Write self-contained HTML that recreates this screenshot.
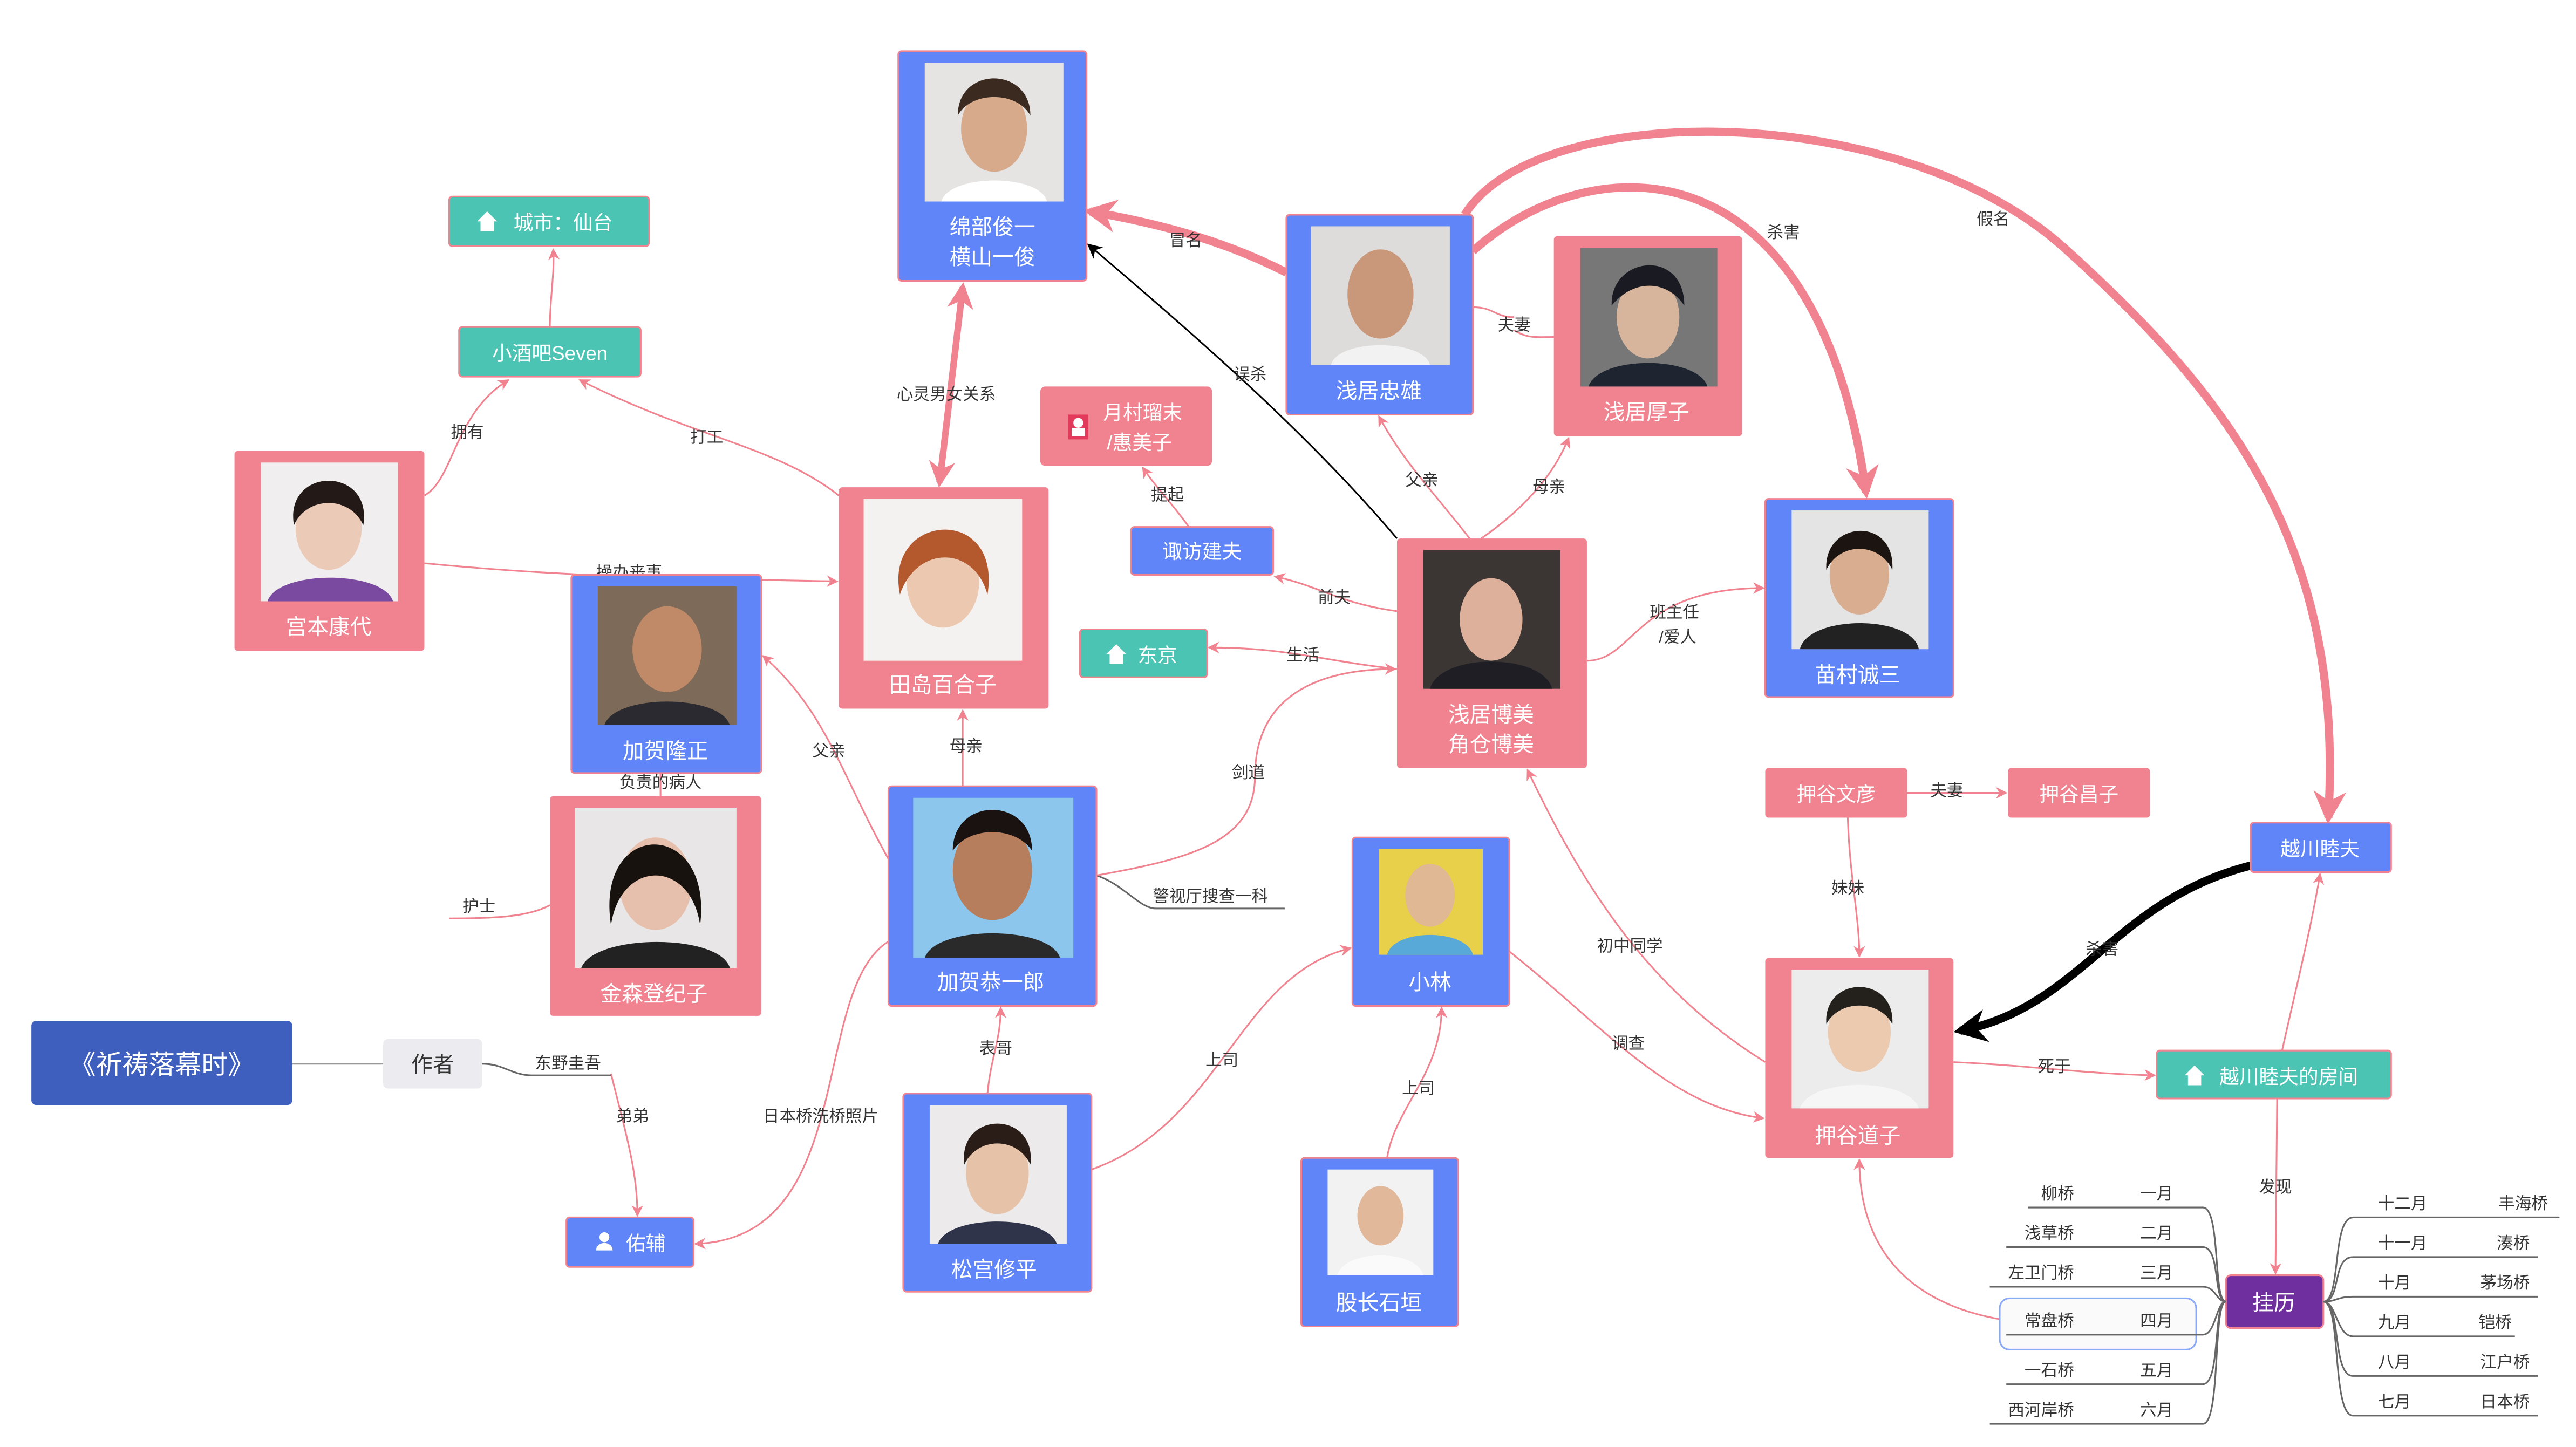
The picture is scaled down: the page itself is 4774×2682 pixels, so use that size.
<!DOCTYPE html>
<html><head><meta charset="utf-8"><style>
html,body{margin:0;padding:0;background:#fff}
svg{display:block}
text{font-family:"Liberation Sans","Noto Sans CJK SC",sans-serif}
.l{font-size:10px;fill:#333;text-anchor:middle}
.n{font-size:13px;fill:#fff;text-anchor:middle}
.e{fill:none;stroke:#f0838f;stroke-width:1}
.g{fill:none;stroke:#666;stroke-width:1}
</style></head><body>
<svg width="4774" height="2682" viewBox="0 0 1560 876" preserveAspectRatio="none" xmlns="http://www.w3.org/2000/svg">
<defs>
<marker id="a" viewBox="0 0 10 10" refX="9" refY="5" markerWidth="7" markerHeight="7" orient="auto-start-reverse" markerUnits="userSpaceOnUse"><path d="M0,0L10,5L0,10L3,5z" fill="#f0838f"/></marker>
<marker id="A" viewBox="0 0 10 10" refX="8" refY="5" markerWidth="4" markerHeight="4" orient="auto-start-reverse"><path d="M0,0L10,5L0,10L3,5z" fill="#f0838f"/></marker>
<marker id="k" viewBox="0 0 10 10" refX="9" refY="5" markerWidth="9" markerHeight="9" orient="auto" markerUnits="userSpaceOnUse"><path d="M0,0L10,5L0,10L3,5z" fill="#000"/></marker>
<marker id="K" viewBox="0 0 10 10" refX="8" refY="5" markerWidth="4" markerHeight="4" orient="auto"><path d="M0,0L10,5L0,10L3,5z" fill="#000"/></marker>
<g id="face"><rect width="1" height="1" fill="#d8d4d0"/></g>
</defs>

<!-- thick edges -->
<path d="M779,165 C740,145 700,135 660,128" fill="none" stroke="#f0838f" stroke-width="5" marker-end="url(#A)"/>
<path d="M569,292 L583,174" fill="none" stroke="#f0838f" stroke-width="4" marker-end="url(#A)" marker-start="url(#A)"/>
<path d="M887,130 C930,60 1150,60 1250,150 C1350,240 1420,330 1410,495" fill="none" stroke="#f0838f" stroke-width="5" marker-end="url(#A)"/>
<path d="M892,152 C960,90 1100,80 1130,298" fill="none" stroke="#f0838f" stroke-width="5" marker-end="url(#A)"/>
<path d="M1363,524 C1280,545 1260,610 1187,624" fill="none" stroke="#000" stroke-width="5" marker-end="url(#K)"/>
<path d="M846,326 C790,260 720,200 659,148" fill="none" stroke="#000" stroke-width="1" marker-end="url(#k)"/>

<!-- thin edges -->
<path class="e" d="M333,198 C333,180 336,165 335,151" marker-end="url(#a)"/>
<path class="e" d="M257,300 C275,290 275,250 308,230" marker-end="url(#a)"/>
<path class="e" d="M508,300 C470,270 420,265 351,230" marker-end="url(#a)"/>
<path class="e" d="M257,341 C350,350 420,350 507,352" marker-end="url(#a)"/>
<path class="e" d="M538,520 C510,470 500,430 462,397" marker-end="url(#a)"/>
<path class="e" d="M583,476 L583,430" marker-end="url(#a)"/>
<path class="e" d="M400,468 L400,482"/>
<path class="e" d="M333,548 C320,555 300,556 272,556"/>
<path class="g" d="M664,530 C680,535 690,550 700,550 L778,550"/>
<path class="e" d="M664,530 C720,520 760,510 760,470 C760,420 800,405 845,405" marker-end="url(#a)"/>
<path class="e" d="M846,405 C800,400 780,392 732,392" marker-end="url(#a)"/>
<path class="e" d="M846,370 C810,365 800,355 772,349" marker-end="url(#a)"/>
<path class="e" d="M720,319 C710,305 700,295 692,283" marker-end="url(#a)"/>
<path class="e" d="M890,326 C870,300 850,280 835,252" marker-end="url(#a)"/>
<path class="e" d="M897,326 C920,310 940,290 950,265" marker-end="url(#a)"/>
<path class="e" d="M892,186 C905,186 905,192 917,192 M917,200 C925,205 930,204 941,204"/>
<path class="e" d="M961,400 C990,400 990,356 1068,356" marker-end="url(#a)"/>
<path class="e" d="M1069,643 C1000,600 960,540 925,466" marker-end="url(#a)"/>
<path class="e" d="M914,576 C970,620 1010,670 1068,677" marker-end="url(#a)"/>
<path class="e" d="M1155,480 L1215,480" marker-end="url(#a)"/>
<path class="e" d="M1119,495 C1120,530 1126,555 1126,579" marker-end="url(#a)"/>
<path class="e" d="M1183,643 C1230,645 1260,650 1305,651" marker-end="url(#a)"/>
<path class="e" d="M1382,636 C1390,600 1400,560 1405,529" marker-end="url(#a)"/>
<path class="e" d="M1379,665 L1378,771" marker-end="url(#a)"/>
<path class="e" d="M1213,799 C1160,790 1126,760 1126,702" marker-end="url(#a)"/>
<path class="e" d="M840,701 C845,670 873,650 873,610" marker-end="url(#a)"/>
<path class="e" d="M661,708 C740,680 750,590 818,574" marker-end="url(#a)"/>
<path class="e" d="M598,662 C600,640 606,630 606,610" marker-end="url(#a)"/>
<path class="e" d="M538,570 C490,600 520,750 421,753" marker-end="url(#a)"/>
<path class="e" d="M370,650 C380,690 386,710 386,736" marker-end="url(#a)"/>
<path d="M177,644 L232,644" stroke="#999" stroke-width="1"/>
<path class="g" d="M292,644 C305,644 310,651 322,651 L370,651"/>

<!-- labels -->
<g class="l">
<text x="718" y="149">冒名</text>
<text x="573" y="242">心灵男女关系</text>
<text x="757" y="230">误杀</text>
<text x="1080" y="144">杀害</text>
<text x="1207" y="136">假名</text>
<text x="917" y="200">夫妻</text>
<text x="707" y="303">提起</text>
<text x="861" y="294">父亲</text>
<text x="938" y="298">母亲</text>
<text x="808" y="365">前夫</text>
<text x="789" y="400">生活</text>
<text x="756" y="471">剑道</text>
<text x="733" y="546">警视厅搜查一科</text>
<text x="1014" y="374">班主任</text>
<text x="1016" y="389">/爱人</text>
<text x="283" y="265">拥有</text>
<text x="428" y="268">打工</text>
<text x="381" y="350">操办丧事</text>
<text x="502" y="458">父亲</text>
<text x="585" y="455">母亲</text>
<text x="400" y="477">负责的病人</text>
<text x="290" y="552">护士</text>
<text x="344" y="647">东野圭吾</text>
<text x="383" y="679">弟弟</text>
<text x="497" y="679">日本桥洗桥照片</text>
<text x="603" y="638">表哥</text>
<text x="740" y="645">上司</text>
<text x="859" y="662">上司</text>
<text x="987" y="576">初中同学</text>
<text x="986" y="635">调查</text>
<text x="1179" y="482">夫妻</text>
<text x="1119" y="541">妹妹</text>
<text x="1273" y="578">杀害</text>
<text x="1244" y="649">死于</text>
<text x="1378" y="722">发现</text>
</g>

<!-- photo nodes -->
<g>
<rect x="544" y="31" width="114" height="139" rx="2" fill="#5f85f9" stroke="#f0838f"/>
<rect x="560" y="38" width="84" height="84" fill="#e6e4e2"/><ellipse cx="602" cy="78" rx="20" ry="26" fill="#d7aa8c"/><path d="M580,70 C580,40 624,40 624,70 C616,55 588,55 580,70z" fill="#3a2a20"/><path d="M570,122 C575,105 630,105 634,122z" fill="#fff"/>
<text class="n" x="601" y="142">绵部俊一</text><text class="n" x="601" y="160">横山一俊</text>

<rect x="779" y="130" width="113" height="121" rx="2" fill="#5f85f9" stroke="#f0838f"/>
<rect x="794" y="137" width="84" height="84" fill="#dedcda"/><ellipse cx="836" cy="178" rx="20" ry="27" fill="#c9987a"/><path d="M806,221 C810,205 862,205 866,221z" fill="#f2f2f2"/>
<text class="n" x="835" y="241">浅居忠雄</text>

<rect x="941" y="143" width="114" height="121" rx="2" fill="#f0838f"/>
<rect x="957" y="150" width="83" height="84" fill="#777"/><ellipse cx="998" cy="192" rx="19" ry="25" fill="#d7b59c"/><path d="M976,185 C975,155 1020,150 1020,185 C1010,170 990,168 976,185z" fill="#1a1a22"/><path d="M962,234 C968,215 1028,215 1034,234z" fill="#1f2530"/>
<text class="n" x="997" y="254">浅居厚子</text>

<rect x="1069" y="302" width="114" height="120" rx="2" fill="#5f85f9" stroke="#f0838f"/>
<rect x="1085" y="309" width="83" height="84" fill="#e4e4e4"/><ellipse cx="1126" cy="348" rx="18" ry="24" fill="#d9ad90"/><path d="M1106,345 C1104,315 1148,312 1146,345 C1138,328 1114,328 1106,345z" fill="#1c1410"/><path d="M1090,393 C1095,372 1158,372 1162,393z" fill="#222"/>
<text class="n" x="1125" y="413">苗村诚三</text>

<rect x="846" y="326" width="115" height="139" rx="2" fill="#f0838f"/>
<rect x="862" y="333" width="83" height="84" fill="#3b3634"/><ellipse cx="903" cy="375" rx="19" ry="25" fill="#dcb09a"/><path d="M866,417 C872,395 934,395 940,417z" fill="#1e1e24"/>
<text class="n" x="903" y="437">浅居博美</text><text class="n" x="903" y="455">角仓博美</text>

<rect x="508" y="295" width="127" height="134" rx="2" fill="#f0838f"/>
<rect x="523" y="302" width="96" height="98" fill="#f4f2f0"/><ellipse cx="571" cy="352" rx="22" ry="28" fill="#edc8b0"/><path d="M545,360 C535,310 607,305 598,360 C590,330 555,330 545,360z" fill="#b4582e"/>
<text class="n" x="571" y="419">田岛百合子</text>

<rect x="346" y="348" width="115" height="120" rx="2" fill="#5f85f9" stroke="#f0838f"/>
<rect x="362" y="355" width="84" height="84" fill="#7d6a58"/><ellipse cx="404" cy="393" rx="21" ry="26" fill="#c08a68"/><path d="M366,439 C372,420 436,420 442,439z" fill="#2a2a30"/>
<text class="n" x="403" y="459">加贺隆正</text>

<rect x="142" y="273" width="115" height="121" rx="2" fill="#f0838f"/>
<rect x="158" y="280" width="83" height="84" fill="#f0eeee"/><ellipse cx="199" cy="320" rx="20" ry="25" fill="#eccab8"/><path d="M178,318 C172,282 226,282 220,318 C212,300 186,300 178,318z" fill="#231a18"/><path d="M162,364 C168,345 232,345 238,364z" fill="#7a4aa0"/>
<text class="n" x="199" y="384">宫本康代</text>

<rect x="333" y="482" width="128" height="133" rx="2" fill="#f0838f"/>
<rect x="348" y="489" width="98" height="97" fill="#e8e6e6"/><ellipse cx="397" cy="535" rx="22" ry="28" fill="#e6c0ac"/><path d="M370,560 C360,495 432,495 424,560 C418,520 376,520 370,560z" fill="#18120f"/><path d="M352,586 C360,565 436,565 442,586z" fill="#222"/>
<text class="n" x="396" y="606">金森登纪子</text>

<rect x="538" y="476" width="126" height="133" rx="2" fill="#5f85f9" stroke="#f0838f"/>
<rect x="553" y="483" width="97" height="97" fill="#8cc6ec"/><ellipse cx="601" cy="527" rx="24" ry="30" fill="#b67e5c"/><path d="M577,515 C577,482 625,482 625,515 C615,500 587,500 577,515z" fill="#1a1210"/><path d="M560,580 C566,560 636,560 642,580z" fill="#2a2a2a"/>
<text class="n" x="600" y="599">加贺恭一郎</text>

<rect x="547" y="662" width="114" height="120" rx="2" fill="#5f85f9" stroke="#f0838f"/>
<rect x="563" y="669" width="83" height="84" fill="#eceaea"/><ellipse cx="604" cy="710" rx="19" ry="25" fill="#e6c2a8"/><path d="M584,705 C580,672 628,672 624,705 C616,688 592,688 584,705z" fill="#2a1c16"/><path d="M568,753 C574,735 634,735 640,753z" fill="#30344a"/>
<text class="n" x="602" y="773">松宫修平</text>

<rect x="819" y="507" width="95" height="102" rx="2" fill="#5f85f9" stroke="#f0838f"/>
<rect x="835" y="514" width="63" height="64" fill="#e8d04a"/><ellipse cx="866" cy="542" rx="15" ry="19" fill="#e0b894"/><path d="M840,578 C844,562 888,562 892,578z" fill="#58a8d8"/>
<text class="n" x="866" y="599">小林</text>

<rect x="788" y="701" width="95" height="102" rx="2" fill="#5f85f9" stroke="#f0838f"/>
<rect x="804" y="708" width="64" height="64" fill="#f2f2f2"/><ellipse cx="836" cy="736" rx="14" ry="18" fill="#e2b89a"/><path d="M810,772 C814,756 858,756 862,772z" fill="#fafafa"/>
<text class="n" x="835" y="793">股长石垣</text>

<rect x="1069" y="580" width="114" height="121" rx="2" fill="#f0838f"/>
<rect x="1085" y="587" width="83" height="84" fill="#ececec"/><ellipse cx="1126" cy="625" rx="19" ry="24" fill="#eccab0"/><path d="M1106,620 C1104,590 1148,590 1146,620 C1138,605 1114,605 1106,620z" fill="#24201c"/><path d="M1090,671 C1096,652 1156,652 1162,671z" fill="#f6f6f6"/>
<text class="n" x="1125" y="692">押谷道子</text>
</g>

<!-- small nodes -->
<g>
<rect x="272" y="119" width="121" height="30" rx="2" fill="#4cc4b4" stroke="#f0838f"/>
<path d="M289,134 L295,128 L301,134 L299,134 L299,140 L291,140 L291,134z" fill="#fff"/>
<text x="341" y="139" style="font-size:12px;fill:#fff;text-anchor:middle">城市：仙台</text>
<rect x="278" y="198" width="110" height="30" rx="2" fill="#4cc4b4" stroke="#f0838f"/>
<text x="333" y="218" style="font-size:12px;fill:#fff;text-anchor:middle">小酒吧Seven</text>
<rect x="630" y="234" width="104" height="48" rx="3" fill="#f0838f"/>
<rect x="647" y="251" width="12" height="15" fill="#e23a5a"/><circle cx="653" cy="256" r="3" fill="#fff"/><rect x="649" y="259" width="8" height="5" fill="#fff"/>
<text x="692" y="254" style="font-size:12px;fill:#fff;text-anchor:middle">月村瑠末</text>
<text x="690" y="272" style="font-size:12px;fill:#fff;text-anchor:middle">/惠美子</text>
<rect x="685" y="319" width="86" height="29" rx="2" fill="#5f85f9" stroke="#f0838f"/>
<text x="728" y="338" style="font-size:12px;fill:#fff;text-anchor:middle">诹访建夫</text>
<rect x="654" y="381" width="77" height="29" rx="2" fill="#4cc4b4" stroke="#f0838f"/>
<path d="M670,396 L676,390 L682,396 L680,396 L680,402 L672,402 L672,396z" fill="#fff"/>
<text x="701" y="401" style="font-size:12px;fill:#fff;text-anchor:middle">东京</text>
<rect x="1069" y="465" width="86" height="30" rx="2" fill="#f0838f"/>
<text x="1112" y="485" style="font-size:12px;fill:#fff;text-anchor:middle">押谷文彦</text>
<rect x="1216" y="465" width="86" height="30" rx="2" fill="#f0838f"/>
<text x="1259" y="485" style="font-size:12px;fill:#fff;text-anchor:middle">押谷昌子</text>
<rect x="1363" y="498" width="85" height="30" rx="2" fill="#5f85f9" stroke="#f0838f"/>
<text x="1405" y="518" style="font-size:12px;fill:#fff;text-anchor:middle">越川睦夫</text>
<rect x="1306" y="636" width="142" height="29" rx="2" fill="#4cc4b4" stroke="#f0838f"/>
<path d="M1323,651 L1329,645 L1335,651 L1333,651 L1333,657 L1325,657 L1325,651z" fill="#fff"/>
<text x="1386" y="656" style="font-size:12px;fill:#fff;text-anchor:middle">越川睦夫的房间</text>
<rect x="1348" y="772" width="59" height="32" rx="3" fill="#6f2f9f" stroke="#f0838f"/>
<text x="1377" y="793" style="font-size:13px;fill:#fff;text-anchor:middle">挂历</text>
<rect x="19" y="618" width="158" height="51" rx="3" fill="#3f5fbf"/>
<text x="98" y="650" style="font-size:16px;fill:#fff;text-anchor:middle">《祈祷落幕时》</text>
<rect x="232" y="629" width="60" height="30" rx="3" fill="#ececf0"/>
<text x="262" y="649" style="font-size:13px;fill:#333;text-anchor:middle">作者</text>
<rect x="343" y="737" width="77" height="30" rx="2" fill="#5f85f9" stroke="#f0838f"/>
<circle cx="366" cy="749" r="3" fill="#fff"/><path d="M361,757 C361,751 371,751 371,757z" fill="#fff"/>
<text x="391" y="757" style="font-size:12px;fill:#fff;text-anchor:middle">佑辅</text>
</g>

<!-- calendar tree -->
<rect x="1211" y="786" width="119" height="31" rx="6" fill="#fafafa" stroke="#8aa8f8"/>
<g class="g">
<path d="M1228,731 L1334,731 C1345,731 1340,788 1348,788"/>
<path d="M1215,755 L1334,755 C1345,755 1340,788 1348,788"/>
<path d="M1205,779 L1334,779 C1342,779 1342,788 1348,788"/>
<path d="M1215,808 L1334,808 C1342,808 1342,788 1348,788"/>
<path d="M1215,838 L1334,838 C1345,838 1340,788 1348,788"/>
<path d="M1205,862 L1334,862 C1345,862 1340,788 1348,788"/>
<path d="M1550,737 L1425,737 C1412,737 1418,788 1407,788"/>
<path d="M1537,761 L1425,761 C1412,761 1418,788 1407,788"/>
<path d="M1537,785 L1425,785 C1415,785 1415,788 1407,788"/>
<path d="M1523,809 L1425,809 C1415,809 1415,788 1407,788"/>
<path d="M1537,833 L1425,833 C1412,833 1418,788 1407,788"/>
<path d="M1537,857 L1425,857 C1412,857 1418,788 1407,788"/>
</g>
<g style="font-size:10px;fill:#333">
<g text-anchor="end">
<text x="1256" y="726">柳桥</text><text x="1256" y="750">浅草桥</text><text x="1256" y="774">左卫门桥</text><text x="1256" y="803">常盘桥</text><text x="1256" y="833">一石桥</text><text x="1256" y="857">西河岸桥</text>
<text x="1316" y="726">一月</text><text x="1316" y="750">二月</text><text x="1316" y="774">三月</text><text x="1316" y="803">四月</text><text x="1316" y="833">五月</text><text x="1316" y="857">六月</text>
<text x="1543" y="732">丰海桥</text><text x="1532" y="756">湊桥</text><text x="1532" y="780">茅场桥</text><text x="1521" y="804">铠桥</text><text x="1532" y="828">江户桥</text><text x="1532" y="852">日本桥</text>
</g>
<text x="1440" y="732">十二月</text><text x="1440" y="756">十一月</text><text x="1440" y="780">十月</text><text x="1440" y="804">九月</text><text x="1440" y="828">八月</text><text x="1440" y="852">七月</text>
</g>
</svg>
</body></html>
